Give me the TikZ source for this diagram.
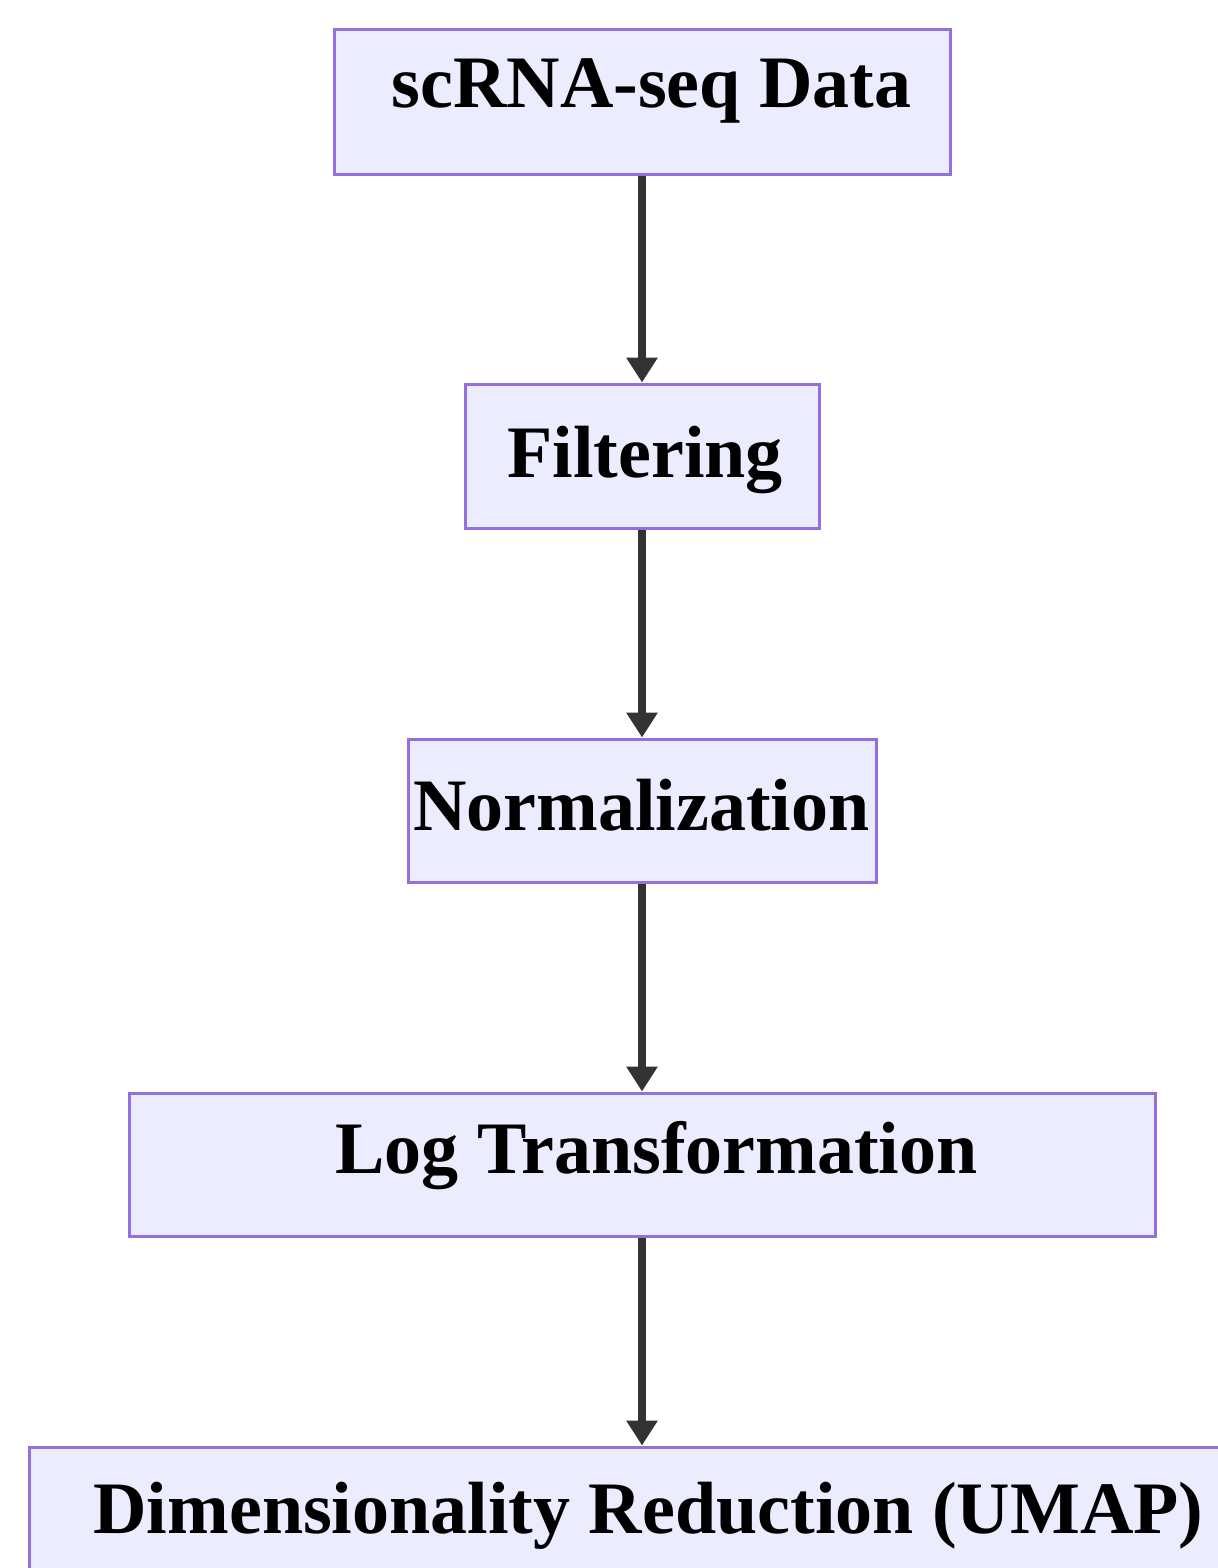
\documentclass[tikz,border=0pt]{standalone}
\usepackage{fontspec}
\setmainfont{Liberation Serif}
\usetikzlibrary{arrows.meta}
\definecolor{stagefill}{HTML}{ECECFF}
\definecolor{stageline}{HTML}{9370DB}
\definecolor{flowink}{HTML}{333333}
\tikzset{
  stage/.style={draw=stageline,line width=1.5pt,fill=stagefill,inner sep=0pt},
  stagetext/.style={font=\fontsize{37}{44}\selectfont\bfseries,text=black,anchor=base,inner sep=0pt},
  flow/.style={-{Triangle[length=12.5pt,width=15pt]},line width=4pt,draw=flowink},
}

\begin{document}
\begin{tikzpicture}[x=0.5pt,y=-0.5pt]
  \path[use as bounding box,fill=white] (0,0) rectangle (1218,1568);
  \clip (0,0) rectangle (1218,1568);
  % pipeline stages
  \node[stage,minimum width=308pt,minimum height=72pt] (data) at (642,102) {};
  \node[stage,minimum width=177pt,minimum height=72pt] (filt) at (642,456) {};
  \node[stage,minimum width=234pt,minimum height=71.5pt] (norm) at (642,810.5) {};
  \node[stage,minimum width=513pt,minimum height=71.5pt] (logt) at (642,1164.5) {};
  \node[stage,minimum width=613pt,minimum height=71.5pt] (umap) at (642,1518.5) {};
  \node[stagetext] (dataT) at (651.5,108) {scRNA-seq Data};
  \node[stagetext] (filtT) at (645,477) {Filtering};
  \node[stagetext] (normT) at (641.5,830) {Normalization};
  \node[stagetext] (logtT) at (656.5,1173) {Log Transformation};
  \node[stagetext] (umapT) at (648.5,1533) {Dimensionality Reduction (UMAP)};
  % connectors
  \draw[flow] (data.south) -- (filt.north);
  \draw[flow] (filt.south) -- (norm.north);
  \draw[flow] (norm.south) -- (logt.north);
  \draw[flow] (logt.south) -- (umap.north);
\end{tikzpicture}
\end{document}
